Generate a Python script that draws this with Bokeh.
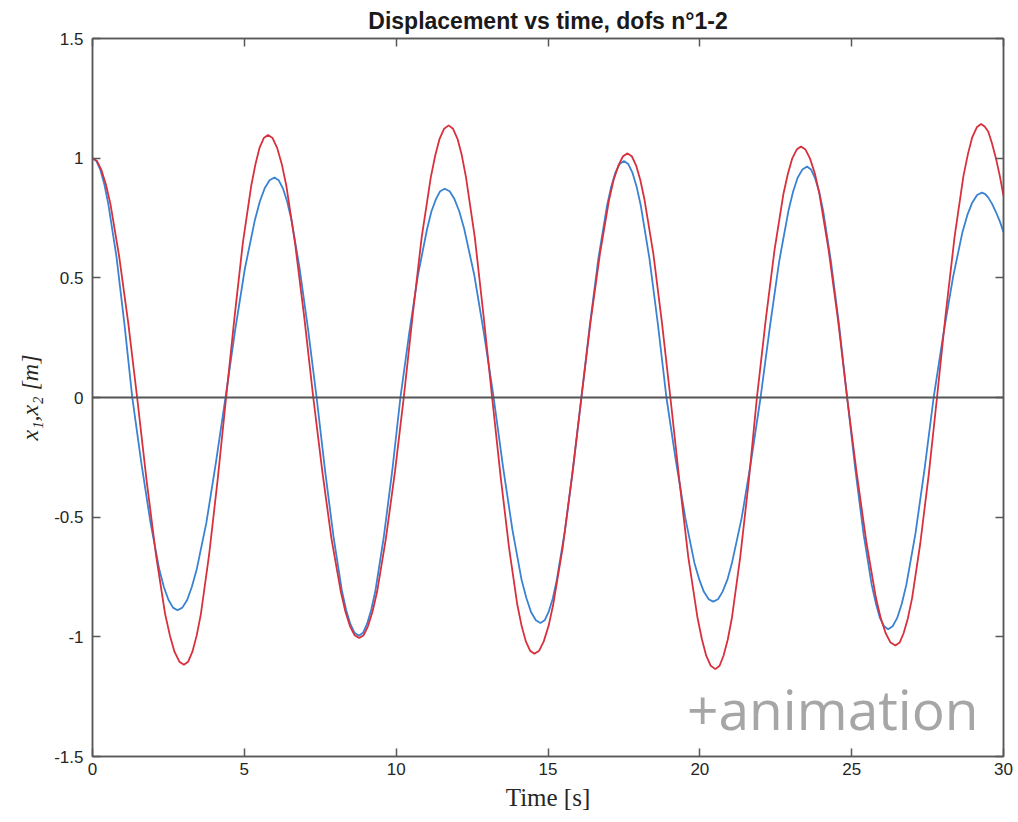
from bokeh.plotting import figure
from bokeh.models import LinearAxis, FixedTicker, Span, Label, Range1d
from bokeh.embed import file_html
from bokeh.resources import INLINE

# ---- data ----
red_t = [0.00, 0.15, 0.29, 0.44, 0.59, 0.88, 1.18,
         1.47, 1.78, 2.09, 2.39, 2.55, 2.70, 2.86,
         3.01, 3.15, 3.29, 3.43, 3.57, 3.84, 4.12,
         4.40, 4.68, 4.95, 5.23, 5.37, 5.50, 5.64,
         5.78, 5.93, 6.08, 6.23, 6.38, 6.67, 6.97,
         7.27, 7.57, 7.87, 8.18, 8.33, 8.48, 8.63,
         8.78, 8.93, 9.07, 9.22, 9.37, 9.66, 9.96,
         10.25, 10.55, 10.84, 11.14, 11.29, 11.43, 11.58,
         11.73, 11.87, 12.02, 12.16, 12.30, 12.59, 12.87,
         13.16, 13.44, 13.72, 13.99, 14.13, 14.27, 14.41,
         14.55, 14.71, 14.86, 15.02, 15.17, 15.48, 15.79,
         16.10, 16.40, 16.71, 17.01, 17.16, 17.32, 17.47,
         17.62, 17.76, 17.90, 18.04, 18.18, 18.47, 18.75,
         19.03, 19.33, 19.62, 19.92, 20.07, 20.21, 20.36,
         20.51, 20.65, 20.78, 20.92, 21.06, 21.33, 21.61,
         21.88, 22.17, 22.46, 22.75, 22.90, 23.04, 23.19,
         23.33, 23.48, 23.63, 23.79, 23.94, 24.24, 24.55,
         24.85, 25.17, 25.49, 25.80, 25.96, 26.12, 26.28,
         26.44, 26.58, 26.71, 26.85, 26.99, 27.26, 27.54,
         27.81, 28.10, 28.39, 28.68, 28.83, 28.97, 29.12,
         29.26, 29.38, 29.50, 29.62, 29.75, 29.88, 30.00]
red_x = [1.000, 0.988, 0.951, 0.891, 0.809, 0.588, 0.309,
         0.000, -0.345, -0.657, -0.904, -0.995, -1.062, -1.104,
         -1.117, -1.104, -1.062, -0.995, -0.904, -0.657, -0.345,
         0.000, 0.339, 0.645, 0.887, 0.977, 1.043, 1.084,
         1.097, 1.084, 1.043, 0.977, 0.887, 0.645, 0.339,
         0.000, -0.311, -0.591, -0.813, -0.895, -0.956, -0.993,
         -1.005, -0.993, -0.956, -0.895, -0.813, -0.591, -0.311,
         0.000, 0.351, 0.669, 0.920, 1.013, 1.081, 1.123,
         1.137, 1.123, 1.081, 1.013, 0.920, 0.669, 0.351,
         0.000, -0.331, -0.630, -0.866, -0.954, -1.019, -1.058,
         -1.071, -1.058, -1.019, -0.954, -0.866, -0.630, -0.331,
         0.000, 0.315, 0.600, 0.825, 0.909, 0.970, 1.008,
         1.020, 1.008, 0.970, 0.909, 0.825, 0.600, 0.315,
         0.000, -0.351, -0.667, -0.918, -1.011, -1.079, -1.121,
         -1.135, -1.121, -1.079, -1.011, -0.918, -0.667, -0.351,
         0.000, 0.324, 0.617, 0.849, 0.935, 0.998, 1.036,
         1.049, 1.036, 0.998, 0.935, 0.849, 0.617, 0.324,
         0.000, -0.320, -0.609, -0.838, -0.923, -0.985, -1.024,
         -1.036, -1.024, -0.985, -0.923, -0.838, -0.609, -0.320,
         0.000, 0.353, 0.672, 0.925, 1.018, 1.087, 1.129,
         1.143, 1.132, 1.110, 1.062, 1.000, 0.925, 0.843]

blue_t = [0.00, 0.13, 0.26, 0.39, 0.52, 0.79, 1.05,
          1.31, 1.61, 1.91, 2.20, 2.35, 2.50, 2.65,
          2.80, 2.96, 3.12, 3.27, 3.43, 3.75, 4.06,
          4.38, 4.70, 5.02, 5.35, 5.51, 5.67, 5.83,
          5.99, 6.13, 6.27, 6.41, 6.55, 6.82, 7.10,
          7.38, 7.66, 7.94, 8.21, 8.35, 8.49, 8.63,
          8.77, 8.91, 9.04, 9.18, 9.32, 9.59, 9.87,
          10.14, 10.43, 10.72, 11.02, 11.16, 11.31, 11.45,
          11.60, 11.76, 11.92, 12.08, 12.24, 12.57, 12.89,
          13.21, 13.52, 13.83, 14.13, 14.29, 14.44, 14.60,
          14.75, 14.89, 15.02, 15.16, 15.29, 15.56, 15.83,
          16.10, 16.38, 16.66, 16.94, 17.08, 17.22, 17.36,
          17.50, 17.64, 17.78, 17.92, 18.06, 18.34, 18.62,
          18.90, 19.21, 19.52, 19.82, 19.98, 20.13, 20.29,
          20.44, 20.60, 20.75, 20.91, 21.06, 21.38, 21.69,
          22.00, 22.31, 22.61, 22.92, 23.07, 23.22, 23.38,
          23.53, 23.66, 23.79, 23.93, 24.06, 24.32, 24.59,
          24.85, 25.12, 25.39, 25.66, 25.80, 25.93, 26.07,
          26.20, 26.35, 26.50, 26.65, 26.80, 27.10, 27.40,
          27.70, 28.02, 28.34, 28.65, 28.81, 28.97, 29.13,
          29.29, 29.40, 29.50, 29.62, 29.75, 29.88, 30.00]
blue_x = [1.000, 0.988, 0.951, 0.891, 0.809, 0.588, 0.309,
          0.000, -0.275, -0.523, -0.719, -0.792, -0.845, -0.878,
          -0.889, -0.878, -0.845, -0.792, -0.719, -0.523, -0.275,
          0.000, 0.284, 0.540, 0.743, 0.819, 0.874, 0.908,
          0.919, 0.908, 0.874, 0.819, 0.743, 0.540, 0.284,
          0.000, -0.307, -0.585, -0.805, -0.887, -0.946, -0.983,
          -0.995, -0.983, -0.946, -0.887, -0.805, -0.585, -0.307,
          0.000, 0.269, 0.513, 0.705, 0.777, 0.829, 0.862,
          0.872, 0.862, 0.829, 0.777, 0.705, 0.513, 0.269,
          0.000, -0.291, -0.554, -0.762, -0.839, -0.896, -0.931,
          -0.942, -0.931, -0.896, -0.839, -0.762, -0.554, -0.291,
          0.000, 0.305, 0.581, 0.799, 0.880, 0.940, 0.976,
          0.988, 0.976, 0.940, 0.880, 0.799, 0.581, 0.305,
          0.000, -0.264, -0.502, -0.690, -0.760, -0.811, -0.843,
          -0.853, -0.843, -0.811, -0.760, -0.690, -0.502, -0.264,
          0.000, 0.298, 0.567, 0.781, 0.860, 0.918, 0.953,
          0.965, 0.953, 0.918, 0.860, 0.781, 0.567, 0.298,
          0.000, -0.299, -0.569, -0.783, -0.862, -0.921, -0.956,
          -0.968, -0.956, -0.921, -0.862, -0.783, -0.569, -0.299,
          0.000, 0.265, 0.504, 0.692, 0.763, 0.814, 0.846,
          0.856, 0.850, 0.835, 0.810, 0.775, 0.736, 0.691]

x_ticks = [0, 5, 10, 15, 20, 25, 30]
y_ticks = [-1.5, -1.0, -0.5, 0.0, 0.5, 1.0, 1.5]
y_tick_labels = ["-1.5", "-1", "-0.5", "0", "0.5", "1", "1.5"]
x_tick_labels = ["0", "5", "10", "15", "20", "25", "30"]
zero_level = 0.0

title_text = "Displacement vs time, dofs n°1-2"
x_label = "Time [s]"
y_label = "x₁,x₂ [m]"
watermark = "+animation"

AX = "#595959"
TXT = "#262626"

p = figure(width=1018, height=822, output_backend="svg", toolbar_location=None,
           x_range=Range1d(0, 30), y_range=Range1d(-1.5, 1.5),
           x_axis_location=None, y_axis_location=None,
           min_border_left=92, min_border_right=15,
           min_border_top=38, min_border_bottom=66)
p.background_fill_color = "white"
p.border_fill_color = "white"
p.outline_line_color = AX
p.outline_line_width = 1.5
p.xgrid.visible = False
p.ygrid.visible = False

p.title.text = title_text
p.title.align = "center"
p.title.text_font = "Liberation Sans"
p.title.text_font_style = "bold"
p.title.text_font_size = "23px"
p.title.text_color = "#1a1a1a"
p.title.standoff = 9

def style_axis(ax, labels, show_labels):
    ax.axis_line_color = AX
    ax.axis_line_width = 1.5
    ax.major_tick_in = 8
    ax.major_tick_out = 0
    ax.major_tick_line_color = AX
    ax.major_tick_line_width = 1.5
    ax.minor_tick_line_color = None
    if show_labels:
        ax.major_label_text_font = "Liberation Sans"
        ax.major_label_text_font_size = "17px"
        ax.major_label_text_color = TXT
        ax.major_label_overrides = labels
    else:
        ax.major_label_text_font_size = "0px"
        ax.major_label_text_color = None

xlab = {t: s for t, s in zip(x_ticks, x_tick_labels)}
ylab = {t: s for t, s in zip(y_ticks, y_tick_labels)}

bottom = LinearAxis(ticker=FixedTicker(ticks=x_ticks))
style_axis(bottom, xlab, True)
bottom.major_label_standoff = 6
bottom.axis_label = x_label
bottom.axis_label_text_font = "Liberation Serif"
bottom.axis_label_text_font_style = "normal"
bottom.axis_label_text_font_size = "25px"
bottom.axis_label_text_color = TXT
bottom.axis_label_standoff = 6
p.add_layout(bottom, "below")

left = LinearAxis(ticker=FixedTicker(ticks=y_ticks))
style_axis(left, ylab, True)
left.major_label_standoff = 9
left.axis_label = y_label
left.axis_label_text_font = "Liberation Serif"
left.axis_label_text_font_style = "italic"
left.axis_label_text_font_size = "24px"
left.axis_label_text_color = TXT
left.axis_label_standoff = 8
p.add_layout(left, "left")

top = LinearAxis(ticker=FixedTicker(ticks=x_ticks))
style_axis(top, None, False)
p.add_layout(top, "above")

right = LinearAxis(ticker=FixedTicker(ticks=y_ticks))
style_axis(right, None, False)
p.add_layout(right, "right")

p.add_layout(Span(location=zero_level, dimension="width",
                  line_color="#555555", line_width=2.2))

p.line(blue_t, blue_x, line_color="#3a82d2", line_width=1.8)
p.line(red_t, red_x, line_color="#d8303c", line_width=1.8)

# watermark, placed in frame-relative screen pixels
p.add_layout(Label(x=886, y=48, x_units="screen", y_units="screen",
                   text=watermark, text_align="right", text_baseline="alphabetic",
                   text_font="Open Sans", text_font_size="55px",
                   text_color="#a6a6a6"))

open("out.html", "w").write(file_html(p, INLINE))
